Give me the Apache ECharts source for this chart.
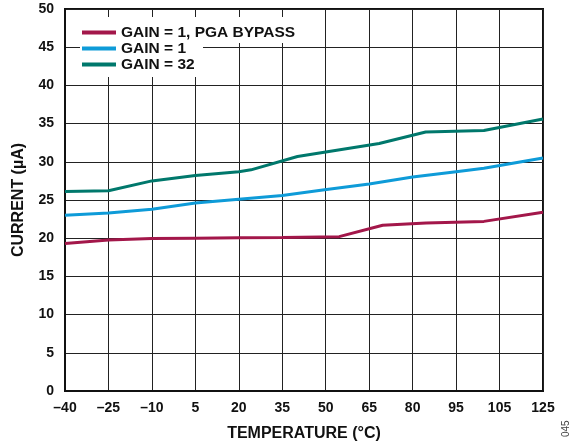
<!DOCTYPE html>
<html>
<head>
<meta charset="utf-8">
<script src="https://cdn.jsdelivr.net/npm/echarts@6/dist/echarts.min.js"></script>
<style>
html,body{margin:0;padding:0;background:#fff;}
#c{width:581px;height:447px;}
</style>
</head>
<body>
<div id="c"></div>
<script>
// Category tick labels (equally spaced on the axis)
const xTickLabels = ['–40', '–25', '–10', '5', '20', '35', '50', '65', '80', '95', '105', '125'];
const yTickLabels = [0, 5, 10, 15, 20, 25, 30, 35, 40, 45, 50];

// Series names
const seriesNames = ['GAIN = 1, PGA BYPASS', 'GAIN = 1', 'GAIN = 32'];

// Positions along the tick index (0 = –40 … 11 = 125) and current values (µA)
const bypassX = [0, 1, 2, 3, 4, 5, 6.31, 7.31, 8.31, 9.64, 11];
const bypassY = [19.3, 19.75, 19.95, 20.0, 20.05, 20.1, 20.2, 21.7, 22.0, 22.2, 23.4];

const gain1X = [0, 1, 2, 3, 4, 5, 5.93, 7, 8, 9, 9.64, 11];
const gain1Y = [23.0, 23.3, 23.8, 24.6, 25.1, 25.6, 26.3, 27.1, 28.0, 28.7, 29.15, 30.5];

const gain32X = [0, 1, 2, 3, 4, 4.28, 5.35, 7.23, 8.3, 9.64, 11];
const gain32Y = [26.1, 26.2, 27.5, 28.2, 28.7, 28.95, 30.7, 32.4, 33.9, 34.1, 35.6];

const colors = ['#A3174A', '#0E9BD8', '#00786C'];

function pairs(xs, ys) { return xs.map((x, i) => [x, ys[i]]); }

const chart = echarts.init(document.getElementById('c'), null, {renderer: 'canvas'});
const font = 'Liberation Sans, Arial, Helvetica, sans-serif';

chart.setOption({
  animation: false,
  backgroundColor: '#fff',
  grid: {left: 65, right: 38, top: 9, bottom: 54, show: true, borderColor: '#111', borderWidth: 2, backgroundColor: 'transparent'},
  xAxis: {
    type: 'value', min: 0, max: xTickLabels.length - 1, interval: 1,
    name: 'TEMPERATURE (°C)', nameLocation: 'middle', nameGap: 35,
    nameTextStyle: {fontFamily: font, fontWeight: 'bold', fontSize: 16, color: '#111'},
    axisLine: {show: true, lineStyle: {color: '#111', width: 2}},
    axisTick: {show: false},
    splitLine: {show: true, lineStyle: {color: '#222', width: 1}},
    axisLabel: {formatter: v => xTickLabels[v] ?? '', fontFamily: font, fontWeight: 'bold', fontSize: 14, color: '#111', margin: 10}
  },
  yAxis: {
    type: 'value', min: yTickLabels[0], max: yTickLabels[yTickLabels.length - 1], interval: 5,
    name: 'CURRENT (µA)', nameLocation: 'middle', nameGap: 38, nameRotate: 90,
    nameTextStyle: {fontFamily: font, fontWeight: 'bold', fontSize: 16, color: '#111'},
    axisLine: {show: true, lineStyle: {color: '#111', width: 2}},
    axisTick: {show: false},
    splitLine: {show: true, lineStyle: {color: '#222', width: 1}},
    axisLabel: {fontFamily: font, fontWeight: 'bold', fontSize: 14, color: '#111', margin: 11}
  },
  legend: {
    orient: 'vertical', left: 82, top: 24.5, z: 10, padding: 0,
    itemGap: 0, itemWidth: 34, itemHeight: 4, icon: 'rect',
    textStyle: {fontFamily: font, fontWeight: 'bold', fontSize: 15.5, color: '#111', lineHeight: 15.5},
    data: seriesNames
  },
  graphic: [
    {type: 'rect', z: 3, shape: {x: 80, y: 17, width: 225, height: 26}, style: {fill: '#fff'}},
    {type: 'rect', z: 3, shape: {x: 80, y: 43, width: 123, height: 34}, style: {fill: '#fff'}},
    {type: 'text', z: 3, x: 566, y: 437, rotation: Math.PI / 2,
     style: {text: '045', fontFamily: font, fontSize: 10, fill: '#444', textAlign: 'left', textVerticalAlign: 'middle'}}
  ],
  series: [
    {name: seriesNames[0], type: 'line', data: pairs(bypassX, bypassY), showSymbol: false, color: colors[0], lineStyle: {width: 3, color: colors[0]}, z: 2},
    {name: seriesNames[1], type: 'line', data: pairs(gain1X, gain1Y), showSymbol: false, color: colors[1], lineStyle: {width: 3, color: colors[1]}, z: 2},
    {name: seriesNames[2], type: 'line', data: pairs(gain32X, gain32Y), showSymbol: false, color: colors[2], lineStyle: {width: 3, color: colors[2]}, z: 2}
  ]
});
</script>
</body>
</html>
